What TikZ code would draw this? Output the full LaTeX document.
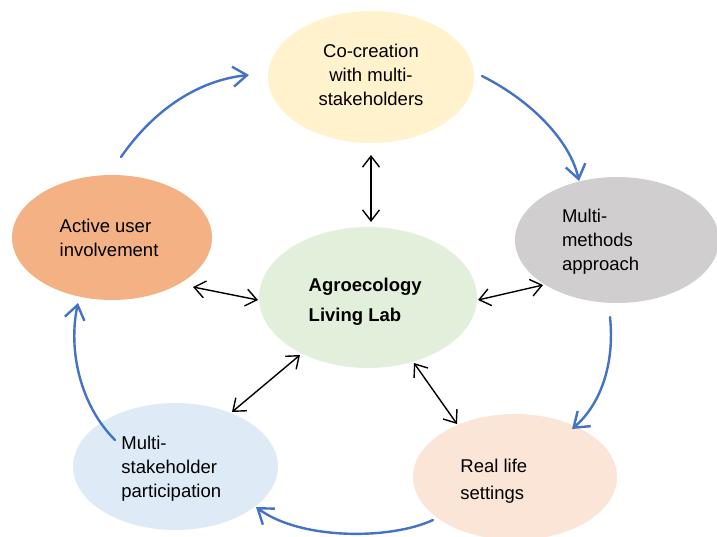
\documentclass[tikz,border=0pt]{standalone}
\usepackage{fontspec}
\setmainfont{Liberation Sans}
\usetikzlibrary{shapes.geometric,arrows.meta}

\definecolor{cycleblue}{HTML}{4472C4}
\definecolor{fillyellow}{HTML}{FFF2CC}
\definecolor{fillorange}{HTML}{F4B183}
\definecolor{fillgrey}{HTML}{D0CECE}
\definecolor{fillgreen}{HTML}{E2EFDA}
\definecolor{fillblue}{HTML}{DEEBF7}
\definecolor{fillpeach}{HTML}{FBE5D6}

\begin{document}
\begin{tikzpicture}[x=1pt,y=-1pt,
  bubble/.style={ellipse, draw=none, inner sep=0pt},
  caption/.style={align=left, inner sep=0pt, anchor=base west,
    font=\fontsize{18.5}{24}\selectfont},
  flow/.style={draw=cycleblue, line width=2.4pt, line cap=round,
    -{Straight Barb[length=14pt,width=20pt,line width=2.4pt]}},
  link/.style={draw=black, line width=1.4pt,
    {Straight Barb[length=11pt,width=17pt]}-{Straight Barb[length=11pt,width=17pt]}}
]
\useasboundingbox (0,0) rectangle (717,536);
\clip (0,0) rectangle (717,536);

% the six ellipses
\node[bubble, fill=fillyellow, minimum width=206pt, minimum height=132pt] (cocreation) at (371,77) {};
\node[bubble, fill=fillorange, minimum width=200pt, minimum height=125pt] (active) at (112,237.5) {};
\node[bubble, fill=fillgrey, minimum width=204pt, minimum height=126pt] (methods) at (617,240) {};
\node[bubble, fill=fillgreen, minimum width=218pt, minimum height=141pt] (lab) at (368,297.5) {};
\node[bubble, fill=fillblue, minimum width=205pt, minimum height=127pt] (participation) at (175.5,466.5) {};
\node[bubble, fill=fillpeach, minimum width=204pt, minimum height=126pt] (reallife) at (515,477) {};

% texts (base anchor sits on the last line)
\node[caption, align=center, anchor=base] (t-cocreation) at (371,105) {Co-creation\\with multi-\\stakeholders};
\node[caption] (t-active) at (59.5,256.7) {Active user\\involvement};
\node[caption] (t-methods) at (561.8,270) {Multi-\\methods\\approach};
\node[caption, font=\fontsize{18.5}{30}\selectfont\bfseries] (t-lab) at (308.5,321) {Agroecology\\Living Lab};
\node[caption] (t-participation) at (121.2,497.3) {Multi-\\stakeholder\\participation};
\node[caption, font=\fontsize{18.5}{26.6}\selectfont] (t-reallife) at (460.2,499.3) {Real life\\settings};

% anchor points of the connectors
\coordinate (l1a) at (371,155);  \coordinate (l1b) at (371,222);
\coordinate (l2a) at (193,287);  \coordinate (l2b) at (258,300);
\coordinate (l3a) at (478,300);  \coordinate (l3b) at (543,285);
\coordinate (l4a) at (300,355);  \coordinate (l4b) at (232,412);
\coordinate (l5a) at (414,363);  \coordinate (l5b) at (457,424);

% two-way links to the centre
\draw[link] (l1a) -- (l1b);
\draw[link] (l2a) -- (l2b);
\draw[link] (l3a) -- (l3b);
\draw[link] (l4a) -- (l4b);
\draw[link] (l5a) -- (l5b);

% cycle around the centre
\coordinate (c1s) at (121,157);  \coordinate (c1e) at (249,75);
\coordinate (c2s) at (482,76);   \coordinate (c2e) at (579,181);
\coordinate (c3s) at (610,317);  \coordinate (c3e) at (572,429);
\coordinate (c4s) at (433,520);  \coordinate (c4e) at (256,507);
\coordinate (c5s) at (115,440);  \coordinate (c5e) at (78,303);

\draw[flow] (c1s) .. controls (155,108) and (200,80) .. (c1e);
\draw[flow] (c2s) .. controls (530,100) and (570,140) .. (c2e);
\draw[flow] (c3s) .. controls (615,365) and (600,405) .. (c3e);
\draw[flow] (c4s) .. controls (390,540) and (300,540) .. (c4e);
\draw[flow] (c5s) .. controls (80,405) and (68,350) .. (c5e);
\end{tikzpicture}
\end{document}
